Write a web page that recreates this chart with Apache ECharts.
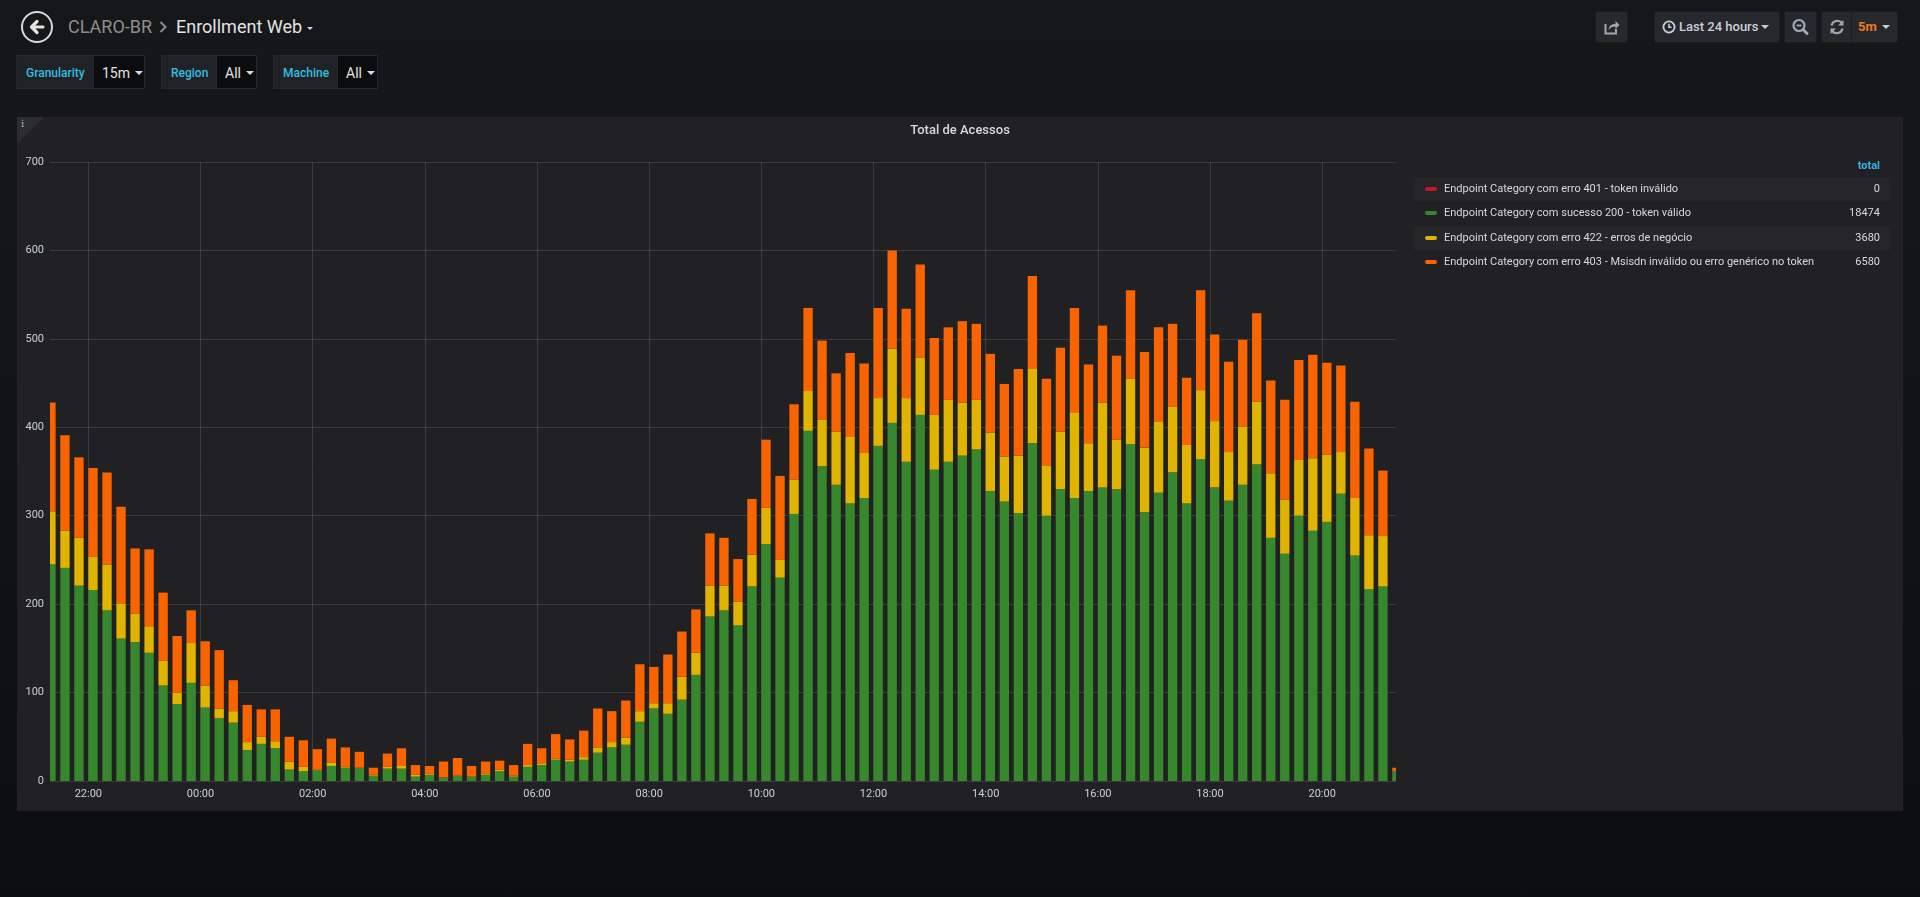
<!DOCTYPE html>
<html>
<head>
<meta charset="utf-8">
<title>Enrollment Web - Total de Acessos</title>
<script src="https://cdn.jsdelivr.net/npm/echarts@6/dist/echarts.min.js"></script>
<style>
html,body{margin:0;padding:0;width:1920px;height:897px;overflow:hidden;}
body{background:linear-gradient(180deg,#161719 0px,#141517 300px,#0c0d0f 897px);font-family:Roboto,"Helvetica Neue",Arial,sans-serif;position:relative;}
.abs{position:absolute;}
.crumb{top:14px;font-size:18px;line-height:26px;white-space:nowrap;}
.lbl{top:55px;height:34px;line-height:34px;background:#202226;border:1px solid #262628;box-sizing:border-box;color:#33bfe0;font-size:12px;font-weight:500;padding-left:9px;}
.val{top:55px;height:34px;line-height:34px;background:#0b0c0e;border:1px solid #262628;box-sizing:border-box;color:#e3e3e3;font-size:14px;padding-left:8px;}
.caret{display:inline-block;width:0;height:0;border-left:4px solid transparent;border-right:4px solid transparent;border-top:4px solid #d8d9da;vertical-align:middle;margin-left:5px;margin-top:-2px;}
.btn{top:11px;height:32px;background:#27282b;border:1px solid #1c1d1f;box-sizing:border-box;border-radius:2px;}
.panel{left:17px;top:117px;width:1886px;height:694px;background:#212124;}
.row{left:1414px;width:476px;height:24px;font-size:11px;line-height:24px;color:#d8d9da;}
.sw{position:absolute;left:11px;top:10px;width:12px;height:4px;border-radius:2px;}
.rt{position:absolute;left:30px;top:0;white-space:nowrap;}
.rv{position:absolute;right:10px;top:0;}
#chart{position:absolute;left:0;top:0;width:1920px;height:897px;}
</style>
</head>
<body>
<!-- header -->
<div class="abs" style="left:21px;top:11px;width:32px;height:32px;border:2px solid #d8d9da;border-radius:50%;box-sizing:border-box;">
  <svg width="28" height="28" viewBox="0 0 28 28" style="position:absolute;left:0;top:0">
    <path d="M20 14 H9 M14 8.5 L8.5 14 L14 19.5" stroke="#e3e3e3" stroke-width="3.2" fill="none" stroke-linecap="round" stroke-linejoin="round"/>
  </svg>
</div>
<div class="abs crumb" style="left:68px;color:#8e8e8e;">CLARO-BR</div>
<svg class="abs" style="left:158px;top:20px" width="10" height="14" viewBox="0 0 10 14"><path d="M2.5 2 L7.5 7 L2.5 12" stroke="#8e8e8e" stroke-width="2" fill="none"/></svg>
<div class="abs crumb" style="left:176px;color:#e3e3e3;">Enrollment Web</div>
<div class="abs" style="left:307px;top:27px;width:0;height:0;border-left:3.5px solid transparent;border-right:3.5px solid transparent;border-top:3.5px solid #d8d9da;"></div>

<!-- variables -->
<div class="abs lbl" style="left:16px;width:78px;">Granularity</div>
<div class="abs val" style="left:93px;width:52px;">15m<span class="caret"></span></div>
<div class="abs lbl" style="left:161px;width:56px;">Region</div>
<div class="abs val" style="left:216px;width:41px;">All<span class="caret"></span></div>
<div class="abs lbl" style="left:273px;width:65px;">Machine</div>
<div class="abs val" style="left:337px;width:41px;">All<span class="caret"></span></div>

<!-- top right buttons -->
<div class="abs btn" style="left:1595px;width:33px;">
  <svg width="31" height="30" viewBox="0 0 31 30" style="position:absolute;left:0;top:0">
    <path d="M9.5 12 V21.5 H20 V17" stroke="#9fa7b3" stroke-width="2" fill="none"/>
    <path d="M12.5 18 C13 13.5 16 12 19.5 12 V9 L23.5 13 L19.5 17 V14.5 C16.5 14.5 14 15.5 12.5 18 Z" fill="#9fa7b3"/>
  </svg>
</div>
<div class="abs btn" style="left:1654px;width:126px;color:#c7d0d9;font-size:13px;font-weight:500;line-height:30px;">
  <svg width="14" height="14" viewBox="0 0 14 14" style="position:absolute;left:7px;top:8px"><circle cx="7" cy="7" r="5.6" stroke="#c7d0d9" stroke-width="1.8" fill="none"/><path d="M7 3.8 V7.3 H9.6" stroke="#c7d0d9" stroke-width="1.6" fill="none"/></svg>
  <span style="position:absolute;left:24px;top:0;white-space:nowrap;">Last 24 hours</span>
  <span style="position:absolute;left:106px;top:13px;width:0;height:0;border-left:4px solid transparent;border-right:4px solid transparent;border-top:4px solid #c7d0d9;"></span>
</div>
<div class="abs btn" style="left:1784px;width:33px;">
  <svg width="31" height="30" viewBox="0 0 31 30" style="position:absolute;left:0;top:0"><circle cx="14" cy="13.5" r="5.5" stroke="#9fa7b3" stroke-width="2.2" fill="none"/><path d="M11.5 13.5 H16.5" stroke="#9fa7b3" stroke-width="1.8"/><path d="M18 17.5 L22 21.5" stroke="#9fa7b3" stroke-width="3" stroke-linecap="round"/></svg>
</div>
<div class="abs btn" style="left:1821px;width:77px;">
  <svg width="30" height="30" viewBox="0 0 30 30" style="position:absolute;left:0;top:0">
    <path d="M9.5 13.5 A6 6 0 0 1 20 11" stroke="#9fa7b3" stroke-width="2.2" fill="none"/><path d="M21.5 8 V13.5 H16 Z" fill="#9fa7b3"/>
    <path d="M20.5 16.5 A6 6 0 0 1 10 19" stroke="#9fa7b3" stroke-width="2.2" fill="none"/><path d="M8.5 22 V16.5 H14 Z" fill="#9fa7b3"/>
  </svg>
  <div style="position:absolute;left:29px;top:0;width:1px;height:30px;background:#1c1d1f;"></div>
  <span style="position:absolute;left:36px;top:0;line-height:30px;font-size:13px;font-weight:700;color:#eb7b18;">5m</span>
  <span style="position:absolute;left:60px;top:13px;width:0;height:0;border-left:4px solid transparent;border-right:4px solid transparent;border-top:4px solid #c7d0d9;"></span>
</div>

<!-- panel -->
<div class="abs panel"></div>
<div class="abs" style="left:17px;top:117px;width:0;height:0;border-top:27px solid #2c2d31;border-right:27px solid transparent;"></div>
<div class="abs" style="left:21px;top:118px;font-size:10px;font-family:'DejaVu Serif',serif;color:#a8aeb8;">i</div>

<div id="chart"></div>

<!-- legend table -->
<div id="legend"></div>

<script>
// ---------- data ----------
const seriesNames = [
  'Endpoint Category com erro 401 - token inválido',
  'Endpoint Category com sucesso 200 - token válido',
  'Endpoint Category com erro 422 - erros de negócio',
  'Endpoint Category com erro 403 - Msisdn inválido ou erro genérico no token'
];
const seriesColors = ['#C4162A', '#37872D', '#E0B400', '#FA6400'];
const legendTotals = ['0', '18474', '3680', '6580'];

// 15-minute buckets, first bucket 21:15, 97 buckets
const firstBucket = '21:15';
const bucketMinutes = 15;
const bucketCount = 97;

const err401 = new Array(97).fill(0);
const ok200 = [
  245,241,221,216,193,161,157,145,108,87,111,83,71,66,35,42,37,13,11,12,
  17,15,15,6,14,14,5,7,4,6,5,7,11,5,16,18,24,22,24,32,
  38,41,67,82,76,92,120,186,193,176,220,268,230,302,396,356,335,314,320,379,
  405,361,414,352,361,368,375,328,316,303,382,300,330,320,328,332,330,381,304,326,
  349,314,364,332,317,335,358,275,257,300,283,293,325,255,217,220,11
];
const err422 = [
  60,42,54,38,52,40,32,30,28,13,45,25,11,13,9,8,8,9,5,1,
  4,1,0,1,2,3,2,1,0,0,0,1,2,1,2,2,1,2,3,6,
  6,8,12,6,12,26,25,35,28,27,36,41,20,39,45,53,60,75,51,54,
  84,72,65,62,70,60,56,66,51,65,84,57,65,97,54,96,56,74,73,80,
  74,66,78,75,55,66,71,73,61,63,82,76,47,65,61,57,0
];
const err403 = [
  123,108,91,100,104,109,74,87,77,64,37,50,66,35,42,31,36,28,30,23,
  27,22,18,8,15,20,11,9,18,20,12,14,10,12,24,17,28,23,30,44,
  35,42,53,41,55,51,49,59,54,48,63,77,95,85,94,89,66,95,101,102,
  111,101,105,87,82,92,86,89,82,98,105,98,95,118,89,87,95,100,108,107,
  94,76,113,98,102,98,100,105,113,113,117,104,98,109,98,74,4
];
const xTickLabels = ['22:00','00:00','02:00','04:00','06:00','08:00','10:00','12:00','14:00','16:00','18:00','20:00'];
const rangeStart = '21:19';   // visible window: last 24 hours
const rangeHours = 24;
const yTicks = { min: 0, max: 700, step: 100 };

// ---------- time helpers (ms since first day 00:00) ----------
const MIN = 60000;
function hm(s){ const p = s.split(':'); return ((+p[0]) * 60 + (+p[1])) * MIN; }
const bucketTimes = [];
for (let i = 0; i < bucketCount; i++) bucketTimes.push(hm(firstBucket) + i * bucketMinutes * MIN);
const xMin = hm(rangeStart);
const xMax = xMin + rangeHours * 60 * MIN;
const tickTimes = [];
{
  let day = 0, prev = -1;
  xTickLabels.forEach(l => {
    const v = hm(l);
    if (v < prev) day++;
    prev = v;
    tickTimes.push(day * 1440 * MIN + v);
  });
}
// Grafana draws each bar starting at its bucket time, 2/3 of the bucket wide
const barSpan = bucketMinutes * MIN * 2 / 3;
function pad(n){ return (n < 10 ? '0' : '') + n; }
function fmtTime(v){ const m = ((Math.round(v / MIN) % 1440) + 1440) % 1440; return pad(Math.floor(m / 60)) + ':' + pad(m % 60); }

// stacked bars: each item = [bucket time, stack base, stack top]
const valueSets = [err401, ok200, err422, err403];
const stackBase = new Array(bucketCount).fill(0);
const series = valueSets.map((vals, si) => {
  const data = vals.map((v, i) => {
    const item = [bucketTimes[i], stackBase[i], stackBase[i] + v];
    stackBase[i] += v;
    return item;
  });
  const color = seriesColors[si];
  return {
    name: seriesNames[si],
    type: 'custom',
    encode: { x: 0, y: [1, 2] },
    clip: true,
    silent: true,
    itemStyle: { color: color },
    data: data,
    renderItem: function (params, api) {
      const t = api.value(0), y0 = api.value(1), y1 = api.value(2);
      if (y1 <= y0) return null;
      const p0 = api.coord([t, y0]);
      const p1 = api.coord([t + barSpan, y1]);
      const cs = params.coordSys;
      const shape = echarts.graphic.clipRectByRect(
        { x: p0[0], y: p1[1], width: p1[0] - p0[0], height: p0[1] - p1[1] },
        { x: cs.x, y: cs.y, width: cs.width, height: cs.height }
      );
      return shape && { type: 'rect', shape: shape, style: { fill: color } };
    }
  };
});

const gridColor = 'rgba(200,200,200,0.16)';
const chart = echarts.init(document.getElementById('chart'), null, { renderer: 'canvas' });
chart.setOption({
  animation: false,
  backgroundColor: 'transparent',
  textStyle: { fontFamily: 'Roboto, "Helvetica Neue", Arial, sans-serif' },
  title: {
    text: 'Total de Acessos',
    left: 'center',
    top: 124,
    padding: 0,
    textStyle: { color: '#d8d9da', fontSize: 13, fontWeight: 500, fontFamily: 'Roboto, Arial, sans-serif' }
  },
  grid: { left: 50, top: 162, width: 1346, height: 619 },
  xAxis: {
    type: 'value',
    min: xMin,
    max: xMax,
    axisLine: { show: false },
    axisTick: { show: false, customValues: tickTimes },
    axisLabel: { customValues: tickTimes, color: '#c7d0d9', fontSize: 11, margin: 8, formatter: fmtTime },
    splitLine: { show: true, lineStyle: { color: gridColor, width: 1 } }
  },
  yAxis: {
    type: 'value',
    min: yTicks.min,
    max: yTicks.max,
    interval: yTicks.step,
    axisLine: { show: false },
    axisTick: { show: false },
    axisLabel: { color: '#c7d0d9', fontSize: 11, margin: 6 },
    splitLine: { show: true, lineStyle: { color: gridColor, width: 1 } }
  },
  series: series
});

// ---------- legend table (Grafana style) ----------
const lg = document.getElementById('legend');
let html = '<div class="abs" style="left:1414px;top:158px;width:466px;text-align:right;font-size:11px;font-weight:700;color:#33b5e5;line-height:16px;">total</div>';
seriesNames.forEach((n, i) => {
  const top = 177 + i * 24.4;
  html += '<div class="abs row" style="top:' + top + 'px;background:' + (i % 2 === 0 ? '#262629' : 'transparent') + ';">' +
    '<span class="sw" style="background:' + seriesColors[i] + '"></span>' +
    '<span class="rt">' + n + '</span>' +
    '<span class="rv">' + legendTotals[i] + '</span></div>';
});
lg.innerHTML = html;
</script>
</body>
</html>
